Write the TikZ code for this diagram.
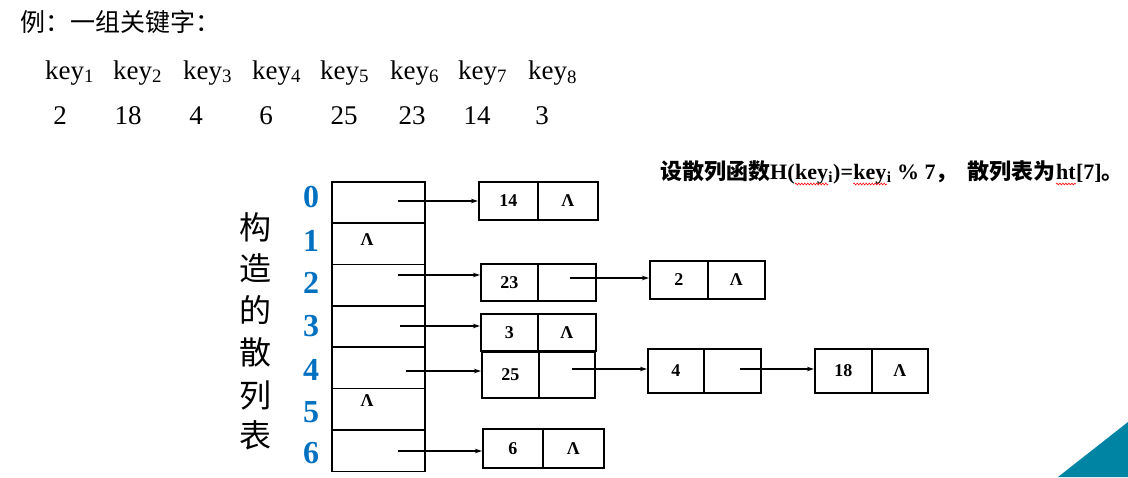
\documentclass[tikz,border=0pt]{standalone}
\usepackage{fontspec}
\setmainfont{Liberation Serif}
\newfontfamily\cjk{Noto Sans CJK SC}
\usetikzlibrary{arrows.meta,decorations.pathmorphing}
\definecolor{idxblue}{RGB}{0,112,192}
\definecolor{tealtri}{RGB}{0,132,163}
\tikzset{
  cellbox/.style={draw, line width=1.6pt, inner sep=0pt, font=\fontsize{18}{20}\selectfont\bfseries},
  rowcell/.style={draw, line width=1.6pt, inner sep=0pt, minimum width=93, minimum height=41.36, anchor=north west},
  idx/.style={text=idxblue, font=\fontsize{32}{34}\selectfont\bfseries, inner sep=0pt},
  vchar/.style={font=\fontsize{32}{34}\selectfont\cjk, inner sep=0pt},
  keytxt/.style={font=\fontsize{27}{30}\selectfont, inner sep=0pt, anchor=base west},
  numtxt/.style={font=\fontsize{27}{30}\selectfont, inner sep=0pt, anchor=base},
  nil/.style={font=\fontsize{18}{20}\selectfont\bfseries, inner sep=0pt},
  hdr/.style={inner sep=0pt, anchor=base west, font=\fontsize{22}{24}\selectfont\bfseries},
  arr/.style={line width=1.3pt, -{Stealth[length=7pt,width=4.5pt]}},
  wavy/.style={red, line width=0.6pt, decorate, decoration={snake, amplitude=0.9pt, segment length=3pt}}
}
\newcommand\listnode[8]{%
  \node[cellbox, minimum width={#3-#2}, minimum height={#6-#5}, anchor=north west] (#1d) at (#2,#5) {#7};
  \node[cellbox, minimum width={#4-#3}, minimum height={#6-#5}, anchor=north west] (#1p) at (#3,#5) {#8};
}
\begin{document}
\begin{tikzpicture}[x=1pt,y=-1pt]
\useasboundingbox (0,0) rectangle (1128,477);
% corner triangle
\fill[tealtri] (1058,477) -- (1128,422) -- (1128,477) -- cycle;
% title
\node[anchor=west, inner sep=0pt, font=\fontsize{25}{27}\selectfont\cjk] (title) at (20,22) {例：一组关键字：};
% keys
\foreach \i/\x in {1/45,2/113,3/183,4/252,5/320,6/390,7/458,8/528}
  \node[keytxt] (k\i) at (\x,79) {key\textsubscript{\i}};
\foreach \n/\v/\x in {1/2/60,2/18/128,3/4/196,4/6/266,5/25/344,6/23/412,7/14/477,8/3/542}
  \node[numtxt] (v\n) at (\x,124) {\v};
% header
\node[hdr] (h1) at (660,179) {{\cjk 设散列函数}H(};
\node[hdr] (h2) at (h1.base east) {key};
\node[hdr] (h3) at (h2.base east) {\textsubscript{i})=};
\node[hdr] (h4) at (h3.base east) {key};
\node[hdr] (h5) at (h4.base east) {\textsubscript{i} \% 7{\cjk ，\ \ 散列表为}};
\node[hdr] (h6) at (h5.base east) {ht};
\node[hdr] (h7) at (h6.base east) {[7]{\cjk 。}};
\draw[wavy] ([yshift=-5pt]h2.base west) -- ([yshift=-5pt]h2.base east);
\draw[wavy] ([yshift=-5pt]h4.base west) -- ([yshift=-5pt]h4.base east);
\draw[wavy] ([yshift=-5pt]h6.base west) -- ([yshift=-5pt]h6.base east);
% vertical label
\foreach \c/\y [count=\j] in {构/227,造/268,的/310,散/352,列/395,表/435}
  \node[vchar] (c\j) at (255,\y) {\c};
% index digits
\foreach \d/\y in {0/197,1/241,2/283,3/326,4/370,5/412,6/453}
  \node[idx] (i\d) at (311,\y) {\d};
% table rows
\foreach \r in {0,...,6}
  \node[rowcell] (r\r) at (331,{181+41.36*\r}) {};
\node[nil] (nil1) at (367,240) {Λ};
\node[nil] (nil5) at (367,401) {Λ};
% list nodes
\listnode{a}{478}{537}{597}{181}{219}{14}{Λ}
\listnode{b}{480}{537}{595}{263}{300}{23}{}
\listnode{c}{649}{707}{764}{260}{298}{2}{Λ}
\listnode{d}{480}{537}{595}{313}{350}{3}{Λ}
\listnode{e}{481}{538}{594}{351}{397}{25}{}
\listnode{f}{647}{703}{760}{348}{392}{4}{}
\listnode{g}{814}{871}{927}{348}{392}{18}{Λ}
\listnode{h}{482}{542}{603}{428}{467}{6}{Λ}
% pointer starts
\coordinate (s0) at (398,201);
\coordinate (s2) at (398,275);
\coordinate (s3) at (400,326);
\coordinate (s4) at (406,371);
\coordinate (s6) at (398,451);
\coordinate (sb) at (570,278);
\coordinate (se) at (572,369);
\coordinate (sf) at (740,369);
\draw[arr] (s0) -- (s0 -| ad.west);
\draw[arr] (s2) -- (s2 -| bd.west);
\draw[arr] (s3) -- (s3 -| dd.west);
\draw[arr] (s4) -- (s4 -| ed.west);
\draw[arr] (s6) -- (s6 -| hd.west);
\draw[arr] (sb) -- (sb -| cd.west);
\draw[arr] (se) -- (se -| fd.west);
\draw[arr] (sf) -- (sf -| gd.west);
\end{tikzpicture}
\end{document}
